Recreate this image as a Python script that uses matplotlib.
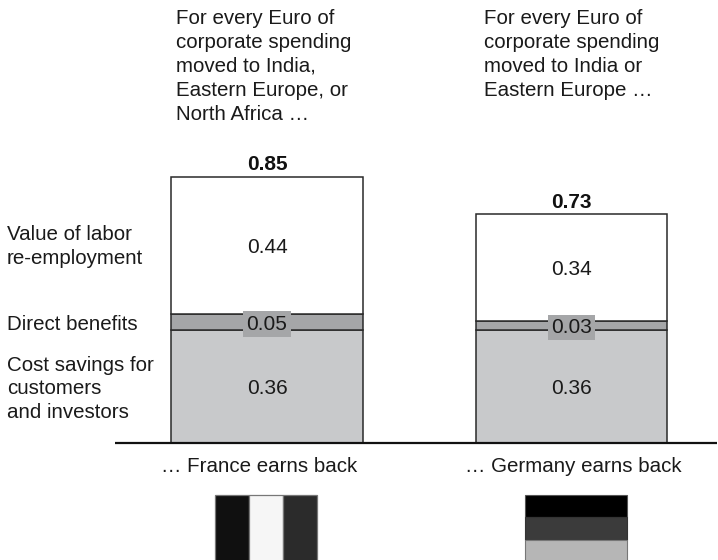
import matplotlib
matplotlib.use("Agg")
import matplotlib.pyplot as plt
from matplotlib.patches import Rectangle

plt.rcParams['font.family'] = ['Liberation Sans', 'DejaVu Sans']

countries = ["France", "Germany"]
cost_savings = [0.36, 0.36]
direct_benefits = [0.05, 0.03]
reemployment = [0.44, 0.34]
totals = [0.85, 0.73]
captions = ["… France earns back", "… Germany earns back"]
headers = ["For every Euro of\ncorporate spending\nmoved to India,\nEastern Europe, or\nNorth Africa …",
           "For every Euro of\ncorporate spending\nmoved to India or\nEastern Europe …"]
row_labels = ["Cost savings for\ncustomers\nand investors", "Direct benefits", "Value of labor\nre-employment"]

W, H = 718, 560
BASE_Y, PX_PER_UNIT = 443, 313.5
FS = 14.75
NUM_FS = 15
SPACING = 1.33

fig = plt.figure(figsize=(W / 100, H / 100), dpi=100, facecolor="white")
ax = fig.add_axes([0, 0, 1, 1])
ax.set_xlim(0, W)
ax.set_ylim((BASE_Y - H) / PX_PER_UNIT, BASE_Y / PX_PER_UNIT)
ax.axis("off")


def py(pixel_row):
    """Convert a row measured from the top of the figure to a value on the y scale."""
    return (BASE_Y - pixel_row) / PX_PER_UNIT


centers = [267, 571.5]
bar_width = 191.5
colors = ["#c8c9cb", "#a5a6a8", "#ffffff"]
text_color = "#1a1a1a"

for i, x in enumerate(centers):
    bottom = 0
    for values, color in zip((cost_savings, direct_benefits, reemployment), colors):
        ax.bar(x, values[i], bar_width, bottom=bottom, color=color,
               edgecolor="#2a2a2a", linewidth=1.1)
        mid = bottom + values[i] / 2
        box = None
        if values is direct_benefits:
            box = dict(boxstyle="square,pad=0.16", facecolor="#a5a6a8", edgecolor="none")
        ax.text(x, mid, f"{values[i]:.2f}", ha="center", va="center_baseline",
                fontsize=NUM_FS, color=text_color, bbox=box, zorder=5)
        bottom += values[i]
    ax.text(x, py(BASE_Y - totals[i] * PX_PER_UNIT - 14), f"{totals[i]:.2f}",
            ha="center", va="center_baseline", fontsize=NUM_FS, fontweight="bold",
            color="#111111")

# Captions under the baseline
for x, text in zip([259.5, 573.5], captions):
    ax.text(x, py(466), text, ha="center", va="center", fontsize=FS, color=text_color)

# Baseline under both columns
ax.plot([115, 717], [0, 0], color="#111111", lw=1.6, solid_capstyle="butt", zorder=6)

# Column headers
for x, text in zip([176, 484], headers):
    ax.text(x, py(9), text, ha="left", va="top", fontsize=FS, color=text_color,
            linespacing=SPACING)

# Row labels along the left edge
ax.text(7, py(389), row_labels[0], ha="left", va="center", fontsize=FS,
        color=text_color, linespacing=SPACING)
ax.text(7, py(325), row_labels[1], ha="left", va="center", fontsize=FS, color=text_color)
ax.text(7, py(246.5), row_labels[2], ha="left", va="center", fontsize=FS,
        color=text_color, linespacing=SPACING)

# French flag: vertical stripes, cut off by the lower edge of the figure
for x0, shade in zip([215, 249, 283], ["#101010", "#f6f6f6", "#2b2b2b"]):
    ax.add_patch(Rectangle((x0, py(H + 5)), 34, py(494.5) - py(H + 5),
                           facecolor=shade, edgecolor="#777777", linewidth=0.9))

# German flag: horizontal stripes
for top, bottom_row, shade, line in zip([494.5, 517, 540], [517, 540, H + 5],
                                        ["#000000", "#3b3b3b", "#b6b6b6"],
                                        ["#555555", "#333333", "#777777"]):
    ax.add_patch(Rectangle((525, py(bottom_row)), 102, py(top) - py(bottom_row),
                           facecolor=shade, edgecolor=line, linewidth=0.8))

fig.savefig("out.png", dpi=100, facecolor="white")
